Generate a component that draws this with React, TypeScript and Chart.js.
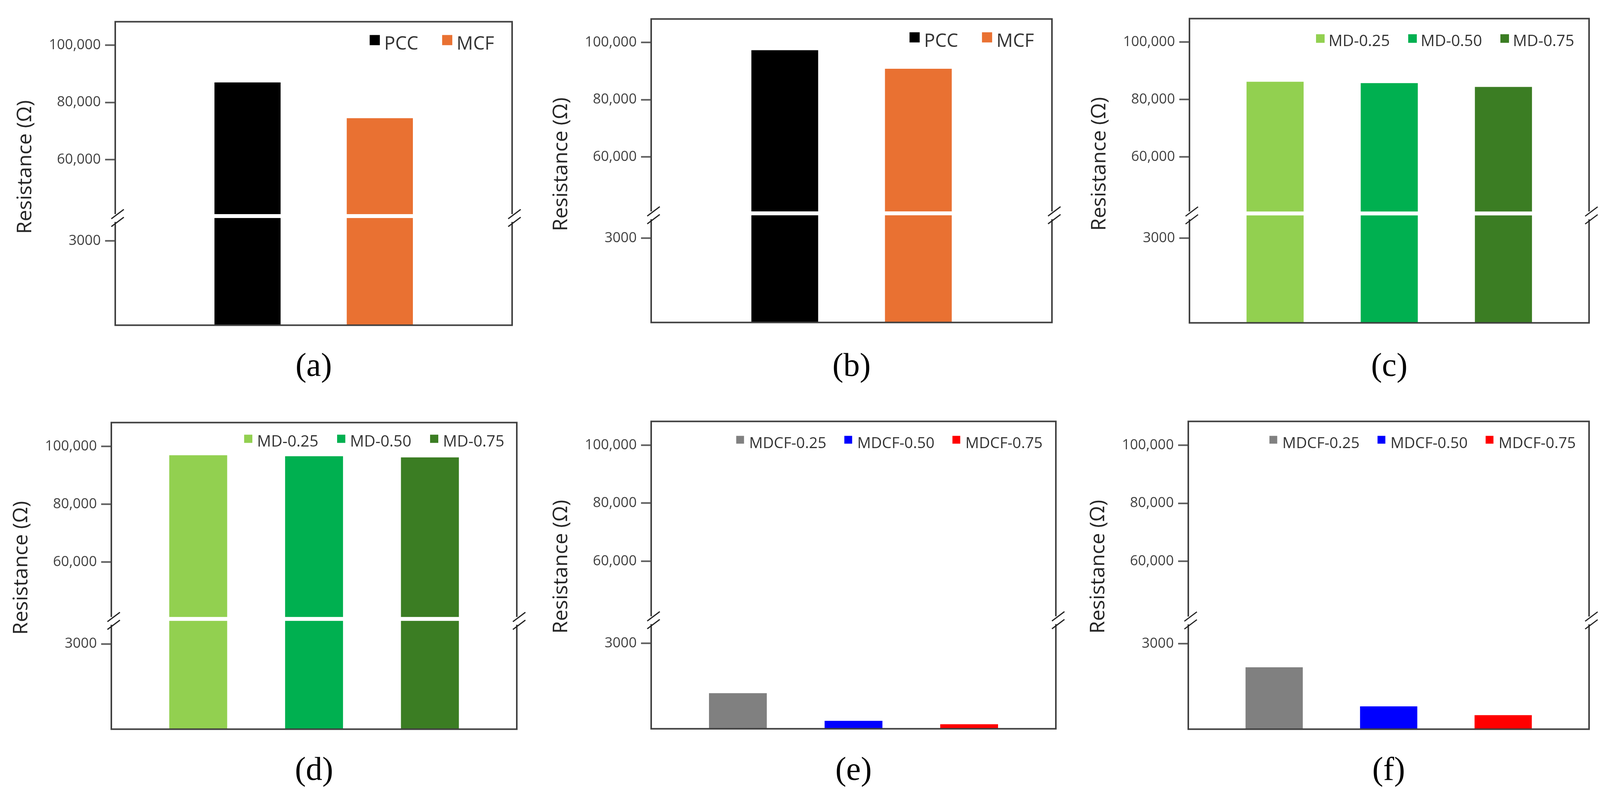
import React, { useEffect, useRef } from 'react';
import { Chart, registerables } from 'chart.js';

Chart.register(...registerables);

// values
const yAxisTitle = 'Resistance (Ω)';
const upperTicks = [60000, 80000, 100000];
const lowerTicks = [3000];

const pccMcfNames = ['PCC', 'MCF'];
const mdNames = ['MD-0.25', 'MD-0.50', 'MD-0.75'];
const mdcfNames = ['MDCF-0.25', 'MDCF-0.50', 'MDCF-0.75'];

const resistanceA = [87000, 74500];
const resistanceB = [97300, 90800];
const resistanceC = [86200, 85700, 84400];
const resistanceD = [96900, 96550, 96150];
const resistanceE = [1250, 280, 160];
const resistanceF = [2170, 800, 490];

// colours
const pccMcfColors = ['#000000', '#E97132'];
const mdColors = ['#92D050', '#00B050', '#3B7D23'];
const mdcfColors = ['#808080', '#0000FF', '#FF0000'];

// broken axis: upper part and lower part
const HIGH_MIN = 40300;
const HIGH_MAX = 108200;
const LOW_MAX = 3880;
const HIGH_WEIGHT = 520;
const LOW_WEIGHT = 292;

const AXIS_W = 290;
const PAD_T = 20;
const PAD_R = 40;
const PAD_B = 12;

const FRAME = '#404040';

type LegendStyle = {
    font: number;
    box: number;
    boxTop: number;
    baseline: number;
    right: number;
    gap: number;
    boxGap: number;
};

const legendAB: LegendStyle = { font: 47, box: 26, boxTop: 34, baseline: 71, right: 46, gap: 61, boxGap: 11 };
const legendC: LegendStyle = { font: 40, box: 22, boxTop: 40, baseline: 70, right: 38, gap: 47, boxGap: 10 };
const legendD: LegendStyle = { font: 40, box: 21, boxTop: 31, baseline: 61, right: 32, gap: 48, boxGap: 12 };
const legendEF: LegendStyle = { font: 39, box: 20, boxTop: 37, baseline: 68, right: 34, gap: 46, boxGap: 13 };

type PanelProps = {
    tag: string;
    names: string[];
    values: number[];
    colors: string[];
    left: number;
    top: number;
    width: number;
    height: number;
    labelY: number;
    legend: LegendStyle;
};

const yScale = (min: number, max: number, ticks: number[], weight: number, fmt: (v: number) => string) => ({
    type: 'linear' as const,
    position: 'left' as const,
    stack: 'resistance',
    stackWeight: weight,
    min,
    max,
    afterBuildTicks: (s: any) => {
        s.ticks = ticks.map((v) => ({ value: v }));
    },
    afterFit: (s: any) => {
        s.width = AXIS_W;
    },
    border: { display: false },
    grid: { drawOnChartArea: false, tickLength: 26, tickWidth: 4, tickColor: '#595959' },
    ticks: {
        color: '#404040',
        padding: 11,
        font: { family: '"Open Sans", sans-serif', size: 36 },
        callback: (v: any) => fmt(Number(v)),
    },
});

const BrokenAxisPanel = (p: PanelProps) => {
    const chartRef = useRef<HTMLCanvasElement>(null);
    const chartInstance = useRef<Chart | null>(null);

    useEffect(() => {
        if (!chartRef.current) return;
        const ctx = chartRef.current.getContext('2d');
        if (!ctx) return;
        if (chartInstance.current) chartInstance.current.destroy();

        const n = p.names.length;
        const datasets: any[] = [];
        p.names.forEach((name, i) => {
            // same bar on both halves of the broken axis, each clipped to its half
            for (const axis of ['yHigh', 'yLow']) {
                datasets.push({
                    label: name,
                    data: [{ x: i + 1, y: p.values[i] }],
                    yAxisID: axis,
                    backgroundColor: p.colors[i],
                    borderWidth: 0,
                    grouped: false,
                    barPercentage: 0.5,
                    categoryPercentage: 1,
                    clip: 0,
                });
            }
        });
        const xPad = n === 2 ? 1 : 0.75;
        const lg = p.legend;

        const framePlugin = {
            id: 'frame',
            afterDatasetsDraw(chart: any) {
                const c = chart.ctx;
                const a = chart.chartArea;
                const yb = chart.scales.yHigh.bottom;
                c.save();
                // white cut through the bars
                c.fillStyle = '#ffffff';
                c.fillRect(a.left, yb - 5, a.right - a.left, 10);
                // box
                c.strokeStyle = FRAME;
                c.lineWidth = 4;
                c.strokeRect(a.left, a.top, a.right - a.left, a.bottom - a.top);
                // break marks //
                for (const x0 of [a.left, a.right]) {
                    const ym = yb + 5;
                    c.fillStyle = '#ffffff';
                    c.fillRect(x0 - 4, ym - 10, 8, 20);
                    c.strokeStyle = '#222222';
                    c.lineWidth = 3;
                    for (const dy of [-10, 10]) {
                        c.beginPath();
                        c.moveTo(x0 - 10, ym + dy + 12);
                        c.lineTo(x0 + 22, ym + dy - 12);
                        c.stroke();
                    }
                }
                // y title
                c.save();
                c.translate(a.left - 230, a.top + 372);
                c.rotate(-Math.PI / 2);
                c.font = '52px "Open Sans", sans-serif';
                c.textAlign = 'center';
                c.textBaseline = 'middle';
                c.fillStyle = '#262626';
                c.fillText(yAxisTitle, 0, 0);
                c.restore();
                // legend, laid out from the right
                c.font = `${lg.font}px "Open Sans", sans-serif`;
                c.textAlign = 'left';
                c.textBaseline = 'alphabetic';
                let x = a.right - lg.right;
                for (let i = n - 1; i >= 0; i--) {
                    const tw = c.measureText(p.names[i]).width;
                    c.fillStyle = '#333333';
                    c.fillText(p.names[i], x - tw, a.top + lg.baseline);
                    const bx = x - tw - lg.boxGap - lg.box;
                    c.fillStyle = p.colors[i];
                    c.fillRect(bx, a.top + lg.boxTop, lg.box, lg.box);
                    x = bx - lg.gap;
                }
                c.restore();
            },
        };

        chartInstance.current = new Chart(ctx, {
            type: 'bar',
            data: { datasets },
            options: {
                animation: false,
                responsive: false,
                maintainAspectRatio: false,
                layout: { padding: { left: 0, top: PAD_T, right: PAD_R, bottom: PAD_B } },
                plugins: { legend: { display: false }, tooltip: { enabled: false } },
                scales: {
                    x: {
                        type: 'linear',
                        display: false,
                        offset: false,
                        min: 1 - xPad,
                        max: n + xPad,
                        afterBuildTicks: (s: any) => {
                            s.ticks = p.names.map((_, i) => ({ value: i + 1 }));
                        },
                    },
                    yLow: yScale(0, LOW_MAX, lowerTicks, LOW_WEIGHT, (v) => String(v)),
                    yHigh: yScale(HIGH_MIN, HIGH_MAX, upperTicks, HIGH_WEIGHT, (v) => v.toLocaleString('en-US')),
                } as any,
            },
            plugins: [framePlugin],
        });

        return () => {
            if (chartInstance.current) {
                chartInstance.current.destroy();
                chartInstance.current = null;
            }
        };
    }, []);

    const cw = AXIS_W + p.width + PAD_R;
    const ch = PAD_T + p.height + PAD_B;
    return (
        <>
            <canvas
                ref={chartRef}
                width={cw}
                height={ch}
                style={{ position: 'absolute', left: p.left - AXIS_W, top: p.top - PAD_T, width: cw, height: ch }}
            />
            <div
                style={{
                    position: 'absolute',
                    left: p.left + p.width / 2,
                    top: p.labelY,
                    transform: 'translate(-50%, -50%)',
                    fontFamily: '"Liberation Serif", serif',
                    fontSize: 84,
                    lineHeight: 1,
                    color: '#000',
                    whiteSpace: 'nowrap',
                }}
            >
                {p.tag}
            </div>
        </>
    );
};

const App = () => {
    return (
        <div style={{ position: 'fixed', left: 0, top: 0, width: 4113, height: 2040, background: '#fff', overflow: 'hidden' }}>
            <BrokenAxisPanel tag="(a)" names={pccMcfNames} values={resistanceA} colors={pccMcfColors}
                left={295} top={43} width={1016} height={810} labelY={934} legend={legendAB} />
            <BrokenAxisPanel tag="(b)" names={pccMcfNames} values={resistanceB} colors={pccMcfColors}
                left={1667} top={36} width={1026} height={810} labelY={934} legend={legendAB} />
            <BrokenAxisPanel tag="(c)" names={mdNames} values={resistanceC} colors={mdColors}
                left={3045} top={35} width={1023} height={812} labelY={934} legend={legendC} />
            <BrokenAxisPanel tag="(d)" names={mdNames} values={resistanceD} colors={mdColors}
                left={285} top={1069} width={1038} height={818} labelY={1968} legend={legendD} />
            <BrokenAxisPanel tag="(e)" names={mdcfNames} values={resistanceE} colors={mdcfColors}
                left={1667} top={1066} width={1036} height={820} labelY={1968} legend={legendEF} />
            <BrokenAxisPanel tag="(f)" names={mdcfNames} values={resistanceF} colors={mdcfColors}
                left={3042} top={1066} width={1026} height={821} labelY={1968} legend={legendEF} />
        </div>
    );
};

export default App;
